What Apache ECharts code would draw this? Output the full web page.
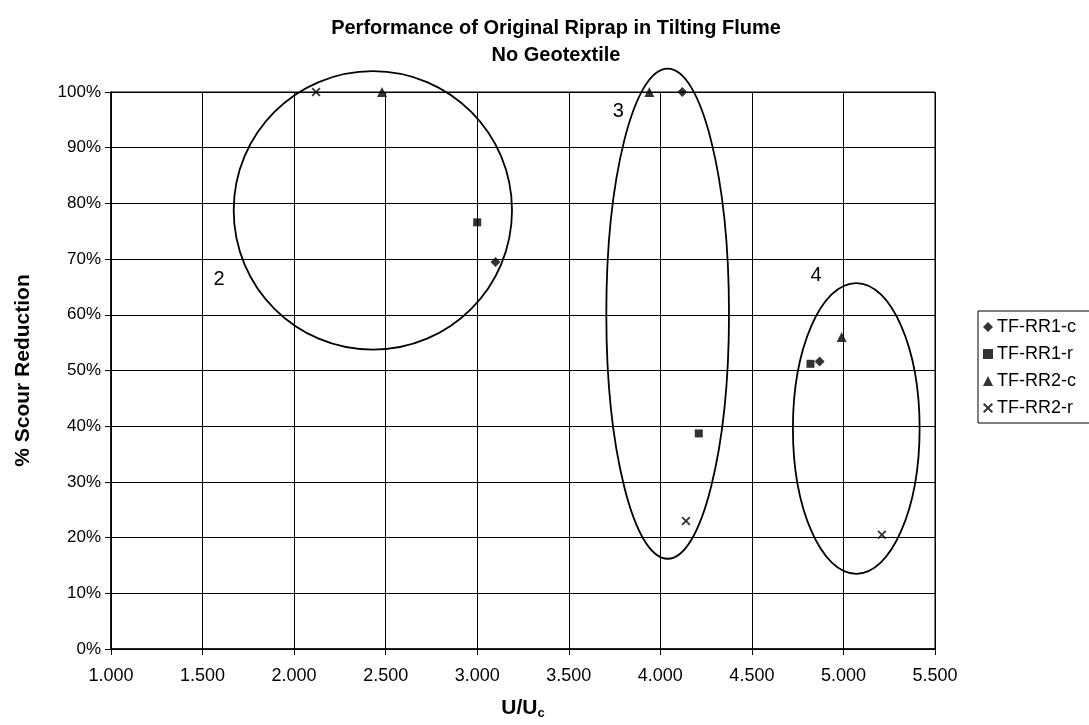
<!DOCTYPE html>
<html><head><meta charset="utf-8">
<script src="https://cdn.jsdelivr.net/npm/echarts@6/dist/echarts.min.js"></script>
<style>html,body{margin:0;padding:0;background:#fff}#c{width:1089px;height:725px}</style>
</head><body><div id="c"></div>
<script>
// Data (U/Uc, % scour reduction)
const rr1cX = [3.10, 4.12, 4.87];
const rr1cY = [69.5, 100, 51.6];
const rr1rX = [3.00, 4.21, 4.82];
const rr1rY = [76.6, 38.7, 51.2];
const rr2cX = [2.48, 3.94, 4.99];
const rr2cY = [100, 100, 56.0];
const rr2rX = [2.12, 4.14, 5.21];
const rr2rY = [100, 23.0, 20.5];
const seriesNames = ['TF-RR1-c', 'TF-RR1-r', 'TF-RR2-c', 'TF-RR2-r'];
// Group ellipses (data units)
const ellipseCx = [2.43, 4.04, 5.07];
const ellipseCy = [78.75, 60.2, 39.6];
const ellipseRx = [0.76, 0.335, 0.346];
const ellipseRy = [25, 44, 26.1];
// Group labels
const groupLabels = ['2', '3', '4'];
const groupLabelX = [1.59, 3.77, 4.85];
const groupLabelY = [66.4, 96.5, 67.0];

const font = 'Liberation Sans, Arial, sans-serif';
const xPath = 'path://M0,1.4L1.4,0L5,3.6L8.6,0L10,1.4L6.4,5L10,8.6L8.6,10L5,6.4L1.4,10L0,8.6L3.6,5Z';
const zip = (xs, ys) => xs.map((x, i) => [x, ys[i]]);

const chart = echarts.init(document.getElementById('c'), null, {renderer: 'canvas'});
chart.setOption({
  backgroundColor: '#fff',
  animation: false,
  title: {
    text: 'Performance of Original Riprap in Tilting Flume\nNo Geotextile',
    left: 551, top: 10, textAlign: 'center',
    textStyle: {fontFamily: font, fontSize: 20, fontWeight: 'bold', color: '#000', lineHeight: 27}
  },
  legend: {
    data: seriesNames.map(n => ({name: n})),
    orient: 'vertical', left: 978, top: 311,
    itemWidth: 10, itemHeight: 10, itemGap: 9,
    padding: [7, 30, 6, 5],
    borderColor: '#000', borderWidth: 1,
    textStyle: {fontFamily: font, fontSize: 18, color: '#000', padding: [0, 0, 0, -1]}
  },
  grid: {left: 111, right: 154, top: 92, bottom: 69, show: true, borderColor: '#000', borderWidth: 1},
  xAxis: {
    type: 'value', min: 1, max: 5.5, interval: 0.5,
    name: 'U/U{sub|c}', nameLocation: 'middle', nameGap: 48,
    nameTextStyle: {fontFamily: font, fontSize: 21, fontWeight: 'bold', color: '#000',
      rich: {sub: {fontFamily: font, fontSize: 13, fontWeight: 'bold', verticalAlign: 'bottom', padding: [10, 0, 0, 0]}}},
    axisLine: {lineStyle: {color: '#000', width: 1.5}},
    axisTick: {show: true, inside: false, length: 6, lineStyle: {color: '#000'}},
    axisLabel: {fontFamily: font, fontSize: 18, color: '#000', margin: 18, formatter: v => v.toFixed(3)},
    splitLine: {show: true, lineStyle: {color: '#000', width: 1}}
  },
  yAxis: {
    type: 'value', min: 0, max: 100, interval: 10,
    name: '% Scour Reduction', nameLocation: 'middle', nameGap: 77, nameRotate: 90,
    nameTextStyle: {fontFamily: font, fontSize: 21, fontWeight: 'bold', color: '#000'},
    axisLine: {show: true, lineStyle: {color: '#000', width: 1.5}},
    axisTick: {show: true, inside: false, length: 6, lineStyle: {color: '#000'}},
    axisLabel: {fontFamily: font, fontSize: 17, color: '#000', margin: 10, formatter: '{value}%'},
    splitLine: {show: true, lineStyle: {color: '#000', width: 1}}
  },
  series: [
    {name: seriesNames[0], type: 'scatter', symbol: 'diamond', symbolSize: 10, itemStyle: {color: '#000'}, data: zip(rr1cX, rr1cY), z: 5},
    {name: seriesNames[1], type: 'scatter', symbol: 'rect', symbolSize: 8, itemStyle: {color: '#000'}, data: zip(rr1rX, rr1rY), z: 5},
    {name: seriesNames[2], type: 'scatter', symbol: 'triangle', symbolSize: 10, itemStyle: {color: '#000'}, data: zip(rr2cX, rr2cY), z: 5},
    {name: seriesNames[3], type: 'scatter', symbol: xPath, symbolSize: 9, itemStyle: {color: '#000'}, data: zip(rr2rX, rr2rY), z: 5},
    {
      type: 'custom', clip: false, silent: true, z: 4,
      data: ellipseCx.map((c, i) => [c, ellipseCy[i], ellipseRx[i], ellipseRy[i]]),
      encode: {x: 0, y: 1},
      renderItem: (params, api) => {
        const cx = api.value(0), cy = api.value(1), rx = api.value(2), ry = api.value(3);
        const c = api.coord([cx, cy]);
        const e = api.coord([cx + rx, cy + ry]);
        return {type: 'ellipse', shape: {cx: c[0], cy: c[1], rx: Math.abs(e[0] - c[0]), ry: Math.abs(c[1] - e[1])},
          style: {fill: 'none', stroke: '#000', lineWidth: 1.8}};
      }
    },
    {
      type: 'custom', clip: false, silent: true, z: 6,
      data: groupLabels.map((t, i) => [groupLabelX[i], groupLabelY[i]]),
      encode: {x: 0, y: 1},
      renderItem: (params, api) => {
        const p = api.coord([api.value(0), api.value(1)]);
        return {type: 'text', x: p[0], y: p[1],
          style: {text: groupLabels[params.dataIndex], fill: '#000', font: '20px ' + font, textAlign: 'center', textVerticalAlign: 'middle'}};
      }
    }
  ]
});
</script></body></html>
